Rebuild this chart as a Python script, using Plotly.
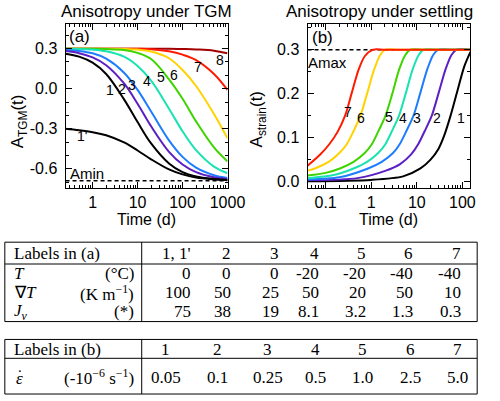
import plotly.graph_objects as go

# ---------------- Panel (a): anisotropy under TGM ----------------
t_a = [0.25, 0.5, 1, 2, 5, 10, 20, 50, 100, 200, 500, 1000]
a_1 = [0.262, 0.240, 0.195, 0.110, -0.080, -0.250, -0.410, -0.560, -0.625, -0.657, -0.676, -0.684]
a_1p = [-0.300, -0.311, -0.326, -0.349, -0.403, -0.463, -0.529, -0.605, -0.642, -0.665, -0.679, -0.685]
a_2 = [0.282, 0.266, 0.234, 0.176, 0.039, -0.113, -0.282, -0.473, -0.568, -0.625, -0.663, -0.676]
a_3 = [0.290, 0.283, 0.265, 0.225, 0.120, -0.009, -0.171, -0.387, -0.511, -0.592, -0.648, -0.669]
a_4 = [0.300, 0.298, 0.293, 0.280, 0.240, 0.170, 0.060, -0.150, -0.319, -0.461, -0.584, -0.634]
a_5 = [0.300, 0.300, 0.299, 0.297, 0.290, 0.268, 0.222, 0.070, -0.075, -0.245, -0.440, -0.545]
a_6 = [0.300, 0.300, 0.300, 0.300, 0.298, 0.293, 0.278, 0.228, 0.140, 0.020, -0.190, -0.372]
a_7 = [0.300, 0.300, 0.300, 0.300, 0.300, 0.299, 0.296, 0.280, 0.255, 0.214, 0.110, -0.010]
a_8 = [0.300, 0.300, 0.300, 0.300, 0.300, 0.300, 0.300, 0.299, 0.297, 0.294, 0.285, 0.265]
a_min = -0.69
labels_a = ["1", "1'", "2", "3", "4", "5", "6", "7", "8"]

# ---------------- Panel (b): anisotropy under settling ----------------
t_b7 = [0.04, 0.075, 0.12, 0.18, 0.267, 0.37, 0.53, 0.72, 1.1, 2, 150]
b_7 = [0.036, 0.061, 0.085, 0.112, 0.150, 0.200, 0.255, 0.285, 0.300, 0.300, 0.300]
t_b6 = [0.04, 0.058, 0.116, 0.2, 0.29, 0.41, 0.58, 0.81, 1.16, 1.57, 2.03, 4, 150]
b_6 = [0.025, 0.030, 0.045, 0.065, 0.085, 0.115, 0.150, 0.200, 0.255, 0.288, 0.300, 0.300, 0.300]
t_b5 = [0.04, 0.1, 0.206, 0.41, 0.72, 1.03, 1.44, 2.06, 2.9, 4.1, 5.6, 7.2, 15, 150]
b_5 = [0.014, 0.020, 0.030, 0.045, 0.065, 0.085, 0.115, 0.150, 0.200, 0.255, 0.288, 0.300, 0.300, 0.300]
t_b4 = [0.04, 0.15, 0.41, 0.81, 1.42, 2.04, 2.85, 4.07, 5.7, 8.1, 11, 14.2, 30, 150]
b_4 = [0.008, 0.015, 0.030, 0.045, 0.065, 0.085, 0.115, 0.150, 0.200, 0.255, 0.288, 0.300, 0.300, 0.300]
t_b3 = [0.04, 0.2, 0.85, 1.7, 3, 4.2, 5.9, 8.45, 11.8, 16.9, 22.8, 29.6, 60, 150]
b_3 = [0.005, 0.010, 0.030, 0.045, 0.065, 0.085, 0.115, 0.150, 0.200, 0.255, 0.288, 0.300, 0.300, 0.300]
t_b2 = [0.04, 0.5, 2.1, 4.3, 7.5, 10.7, 14.9, 21.3, 29.8, 42.6, 57.5, 74.5, 150]
b_2 = [0.003, 0.008, 0.025, 0.040, 0.062, 0.085, 0.115, 0.150, 0.200, 0.255, 0.288, 0.300, 0.300]
t_b1 = [0.04, 1, 5, 12, 20, 30, 40, 55, 77, 110, 150]
b_1 = [0.001, 0.004, 0.012, 0.030, 0.050, 0.075, 0.105, 0.150, 0.205, 0.262, 0.295]
a_max = 0.3
labels_b = ["1", "2", "3", "4", "5", "6", "7"]

# ---------------- Tables ----------------
tab_a_head = ["1, 1'", "2", "3", "4", "5", "6", "7"]
tab_a_T = ["0", "0", "0", "-20", "-20", "-40", "-40"]
tab_a_gradT = ["100", "50", "25", "50", "20", "50", "10"]
tab_a_Jv = ["75", "38", "19", "8.1", "3.2", "1.3", "0.3"]
tab_b_head = ["1", "2", "3", "4", "5", "6", "7"]
tab_b_rate = ["0.05", "0.1", "0.25", "0.5", "1.0", "2.5", "5.0"]

col = {
    "1": "#000000", "1'": "#000000", "2": "#5c1fc4", "3": "#1e7dff",
    "4": "#19e3b0", "5": "#3dd400", "6": "#ffd200", "7": "#ff1a00", "8": "#a30000",
}

W, H = 500, 401
SANS = "Liberation Sans"
SERIF = "Liberation Serif"


def px(x):
    return x / W


def py(y):
    return 1 - y / H


fig = go.Figure()

# dashed reference lines
fig.add_trace(go.Scatter(x=[0.25, 1000], y=[a_min, a_min], mode="lines",
                         line=dict(color="black", width=1.5, dash="4px,3px"),
                         xaxis="x", yaxis="y", showlegend=False))
fig.add_trace(go.Scatter(x=[0.04, 150], y=[a_max, a_max], mode="lines",
                         line=dict(color="black", width=1.5, dash="4px,3px"),
                         xaxis="x2", yaxis="y2", showlegend=False))

series_a = [("8", a_8), ("7", a_7), ("6", a_6), ("5", a_5), ("4", a_4),
            ("3", a_3), ("2", a_2), ("1'", a_1p), ("1", a_1)]
for name, ys in series_a:
    fig.add_trace(go.Scatter(x=t_a, y=ys, mode="lines", name=name,
                             line=dict(color=col[name], width=2, shape="spline", smoothing=1.0),
                             xaxis="x", yaxis="y", showlegend=False))

series_b = [("1", t_b1, b_1), ("2", t_b2, b_2), ("3", t_b3, b_3), ("4", t_b4, b_4),
            ("5", t_b5, b_5), ("6", t_b6, b_6), ("7", t_b7, b_7)]
for name, xs, ys in series_b:
    fig.add_trace(go.Scatter(x=xs, y=ys, mode="lines", name=name,
                             line=dict(color=col[name], width=2, shape="spline", smoothing=0.8),
                             xaxis="x2", yaxis="y2", showlegend=False))

ax_common = dict(showline=True, linecolor="black", linewidth=1, mirror="ticks",
                 ticks="inside", ticklen=6, tickcolor="black", showgrid=False,
                 zeroline=False, tickfont=dict(family=SANS, size=16, color="black"))

fig.update_layout(
    width=W, height=H, margin=dict(l=0, r=0, t=0, b=0),
    paper_bgcolor="white", plot_bgcolor="white",
    xaxis=dict(type="log", range=[-0.602, 3.0], domain=[px(68), px(236)], anchor="y",
               tickvals=[1, 10, 100, 1000], ticktext=["1", "10", "100", "1000"],
               minor=dict(ticks="inside", ticklen=3, tickcolor="black",
                          tickvals=[0.3, 0.4, 0.5, 0.6, 0.7, 0.8, 0.9, 2, 3, 4, 5, 6, 7, 8, 9,
                                    20, 30, 40, 50, 60, 70, 80, 90, 200, 300, 400, 500, 600, 700, 800, 900]),
               **ax_common),
    yaxis=dict(range=[-0.741, 0.486], domain=[py(189), py(24)], anchor="x",
               tickvals=[-0.6, -0.3, 0.0, 0.3], ticktext=["-0.6", "-0.3", "0.0", "0.3"],
               minor=dict(ticks="inside", ticklen=3, tickcolor="black", dtick=0.1),
               ticklabelstandoff=4, **ax_common),
    xaxis2=dict(type="log", range=[-1.398, 2.176], domain=[px(319), px(488)], anchor="y2",
                tickvals=[0.1, 1, 10, 100], ticktext=["0.1", "1", "10", "100"],
                minor=dict(ticks="inside", ticklen=3, tickcolor="black",
                           tickvals=[0.05, 0.06, 0.07, 0.08, 0.09, 0.2, 0.3, 0.4, 0.5, 0.6, 0.7, 0.8, 0.9,
                                     2, 3, 4, 5, 6, 7, 8, 9, 20, 30, 40, 50, 60, 70, 80, 90]),
                **ax_common),
    yaxis2=dict(range=[-0.0135, 0.3587], domain=[py(189), py(24)], anchor="x2",
                tickvals=[0.0, 0.1, 0.2, 0.3], ticktext=["0.0", "0.1", "0.2", "0.3"],
                minor=dict(ticks="inside", ticklen=3, tickcolor="black", dtick=0.05),
                ticklabelstandoff=4, **ax_common),
)

ann = []


def add_px(text, x, y, size=15, family=SANS, xanchor="center", yanchor="middle", angle=0):
    ann.append(dict(text=text, x=px(x), y=py(y), xref="paper", yref="paper",
                    xanchor=xanchor, yanchor=yanchor, showarrow=False, textangle=angle,
                    font=dict(family=family, size=size, color="black")))


def add_data(text, x, y, xr, yr, size=14):
    ann.append(dict(text=text, x=x, y=y, xref=xr, yref=yr, xanchor="center", yanchor="middle",
                    showarrow=False, font=dict(family=SANS, size=size, color="black")))


# titles and axis titles
add_px("Anisotropy under TGM", 152, 12, size=17)
add_px("Anisotropy under settling", 394, 12, size=17)
add_px("Time (d)", 152, 221, size=16)
add_px("Time (d)", 403, 221, size=16)
add_px("A<sub>TGM</sub>(t)", 20, 122, size=17, angle=-90)
add_px("A<sub>strain</sub>(t)", 268, 120, size=17, angle=-90)

# panel (a) labels (log10 x positions)
pos_a = {"1": (0.384, -0.012), "2": (0.663, -0.005), "3": (0.877, 0.025), "4": (1.199, 0.055),
         "5": (1.52, 0.084), "6": (1.821, 0.099), "7": (2.335, 0.159), "8": (2.828, 0.218),
         "1'": (-0.237, -0.355)}
for lab in labels_a:
    xx, yy = pos_a[lab]
    add_data(lab, xx, yy, "x", "y")
add_data("Amin", -0.13, -0.6375, "x", "y", size=15)
add_data("(a)", -0.302, 0.389, "x", "y", size=17)

pos_b = {"7": (-0.510, 0.158), "6": (-0.214, 0.144), "5": (0.399, 0.146), "4": (0.695, 0.144),
         "3": (1.012, 0.144), "2": (1.435, 0.144), "1": (1.964, 0.144)}
for lab in labels_b:
    xx, yy = pos_b[lab]
    add_data(lab, xx, yy, "x2", "y2")
add_data("Amax", -0.954, 0.271, "x2", "y2", size=15)
add_data("(b)", -1.06, 0.327, "x2", "y2", size=17)

# ---------------- tables drawn with shapes + text ----------------
shapes = []


def hline(x0, x1, y):
    shapes.append(dict(type="line", xref="paper", yref="paper", x0=px(x0), x1=px(x1),
                       y0=py(y), y1=py(y), line=dict(color="black", width=1)))


def vline(x, y0, y1):
    shapes.append(dict(type="line", xref="paper", yref="paper", x0=px(x), x1=px(x),
                       y0=py(y0), y1=py(y1), line=dict(color="black", width=1)))


TS = 17
# table (a)
hline(5, 495, 244); hline(5, 495, 266); hline(5, 495, 324)
vline(5, 244, 324); vline(495, 244, 324); vline(147, 244, 324)
right_a = [200, 242, 292, 333, 382, 430, 480]
rows_a = [(255, tab_a_head), (276, tab_a_T), (295, tab_a_gradT), (314, tab_a_Jv)]
for yy, vals in rows_a:
    for xr, v in zip(right_a, vals):
        add_px(v, xr, yy, size=TS, family=SERIF, xanchor="right")
add_px("Labels in (a)", 12, 255, size=TS, family=SERIF, xanchor="left")
add_px("<i>T</i>", 12, 276, size=TS, family=SERIF, xanchor="left")
add_px("(°C)", 141, 276, size=TS, family=SERIF, xanchor="right")
add_px("∇<i>T</i>", 12, 295, size=TS, family=SERIF, xanchor="left")
add_px("(K m<sup>−1</sup>)", 141, 295, size=TS, family=SERIF, xanchor="right")
add_px("<i>J<sub>v</sub></i>", 12, 314, size=TS, family=SERIF, xanchor="left")
add_px("(*)", 141, 314, size=TS, family=SERIF, xanchor="right")

# table (b)
hline(5, 495, 342); hline(5, 495, 361); hline(5, 495, 397)
vline(5, 342, 397); vline(495, 342, 397); vline(147, 342, 397)
cent_b = [172, 226, 278, 327, 376, 426, 475]
for xc, v in zip(cent_b, tab_b_head):
    add_px(v, xc, 352, size=TS, family=SERIF)
for xc, v in zip(cent_b, tab_b_rate):
    add_px(v, xc, 380, size=TS, family=SERIF)
add_px("Labels in (b)", 12, 352, size=TS, family=SERIF, xanchor="left")
add_px("<i>ε</i>", 15, 381, size=TS, family=SERIF, xanchor="left")
add_px("˙", 20.5, 378, size=TS, family=SERIF)
add_px("(-10<sup>−6</sup> s<sup>−1</sup>)", 141, 380, size=TS, family=SERIF, xanchor="right")

fig.update_layout(annotations=ann, shapes=shapes)

page_fix = (
    "var s=document.documentElement.style;s.margin='0';s.padding='0';s.overflow='hidden';"
    "var b=document.body.style;b.margin='0';b.padding='0';b.overflow='hidden';"
    "var gd=document.getElementById('{plot_id}');"
    "if(gd&&gd.parentElement){gd.parentElement.style.height='401px';"
    "gd.parentElement.style.overflow='hidden';gd.parentElement.style.lineHeight='0';}"
)
fig.write_html("out.html", config={"displayModeBar": False}, post_script=page_fix)
